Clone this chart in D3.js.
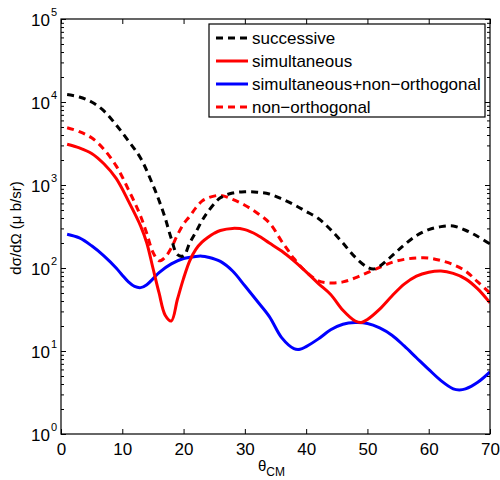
<!DOCTYPE html>
<html><head><meta charset="utf-8">
<script src="https://cdn.jsdelivr.net/npm/d3@7"></script>
<style>body{margin:0;background:#fff} text{font-family:"Liberation Sans",Arial,sans-serif}</style>
</head><body>
<svg id="c" width="500" height="480"></svg>
<script>
// ---- data ----
const seriesNames = ["successive", "simultaneous", "simultaneous+non\u2212orthogonal", "non\u2212orthogonal"];

const successiveTheta  = [1,3,5,7,9,11,13,15,16,17,18,19,20,21,22,23,24,26,28,30,32,34,36,38,40,42,44,46,48,50,51,52,54,56,58,60,62,64,66,68,70];
const successiveValues = [12300,11500,10000,7800,5300,3400,2100,1000,650,400,225,145,140,200,270,370,480,700,800,830,820,780,680,580,480,395,290,200,135,102,97,105,140,190,245,290,315,320,285,240,195];

const simultTheta  = [1,3,5,7,9,11,13,14,15,16,17,18,19,20,21,22,23,24,25,26,28,30,32,34,36,38,40,42,44,46,48,49,50,52,54,56,58,60,62,64,66,68,70];
const simultValues = [3100,2800,2400,1800,1200,640,320,200,100,50,27,23,42,75,122,168,205,235,262,283,300,290,250,200,160,122,90,65,48,31,23,22,24,32,46,64,80,89,92,86,74,56,38];

const simNonOrthTheta  = [1,3,5,7,9,10,11,12,13,14,15,16,18,20,22,23,24,26,28,30,32,34,36,38,39,40,42,44,46,48,50,52,54,56,58,60,62,64,65,66,68,70];
const simNonOrthValues = [255,230,185,140,100,82,68,60,58,63,74,88,112,130,138,139,135,120,92,61,40,26,14.5,10.7,10.5,11.3,14,18,21,22,21.5,19,15.5,11.5,8.3,6,4.4,3.5,3.4,3.5,4.2,5.6];

const nonOrthTheta  = [1,3,5,7,9,10,11,12,13,14,15,16,17,18,19,20,21,22,23,24,26,28,30,32,34,36,37,38,40,42,44,46,48,50,52,54,56,58,60,62,64,66,68,70];
const nonOrthValues = [4900,4400,3700,2700,1700,1250,880,620,420,260,155,122,135,175,250,340,420,530,640,700,750,670,570,460,350,210,165,130,90,70,66,68,76,88,102,117,127,132,132,123,110,92,68,50];

const xTicks = [0,10,20,30,40,50,60,70];
const yTickExps = [0,1,2,3,4,5];

// ---- layout ----
const svg = d3.select("#c");
const L = 61, R = 490, T = 19, B = 434;
const x = d3.scaleLinear().domain([0,70]).range([L,R]);
const y = d3.scaleLog().domain([1,1e5]).range([B,T]);

svg.append("rect").attr("width",500).attr("height",480).attr("fill","#fff");

const seriesDefs = [
  {theta: successiveTheta, vals: successiveValues, color:"#000000", dash:"7,5"},
  {theta: simultTheta, vals: simultValues, color:"#ff0000", dash:null},
  {theta: simNonOrthTheta, vals: simNonOrthValues, color:"#0000ff", dash:null},
  {theta: nonOrthTheta, vals: nonOrthValues, color:"#ff0000", dash:"7,5"}
];

const line = d3.line().x(d=>x(d[0])).y(d=>y(d[1])).curve(d3.curveCatmullRom.alpha(0.5));
svg.append("clipPath").attr("id","pc").append("rect")
  .attr("x",L).attr("y",T).attr("width",R-L).attr("height",B-T);

const order = [2,3,1,0];
order.forEach(i=>{
  const s = seriesDefs[i];
  svg.append("path")
    .datum(s.theta.map((t,k)=>[t,s.vals[k]]))
    .attr("clip-path","url(#pc)")
    .attr("fill","none").attr("stroke",s.color).attr("stroke-width",3)
    .attr("stroke-dasharray",s.dash).attr("stroke-linejoin","round")
    .attr("d",line);
});

// ---- axes ----
const minor = [];
for (let e=0;e<5;e++) for (let m=2;m<10;m++) minor.push(m*Math.pow(10,e));
const majors = yTickExps.map(e=>Math.pow(10,e));

function styleAxis(g){ g.select(".domain").remove(); g.selectAll("line").attr("stroke","#000").attr("stroke-width",1); }

svg.append("g").attr("transform",`translate(0,${B})`)
  .call(d3.axisBottom(x).tickValues(xTicks).tickSizeInner(-5).tickSizeOuter(0).tickPadding(9))
  .call(styleAxis)
  .selectAll("text").attr("font-size",17).attr("fill","#000");
svg.append("g").attr("transform",`translate(0,${T})`)
  .call(d3.axisTop(x).tickValues(xTicks).tickSizeInner(-5).tickSizeOuter(0).tickFormat(""))
  .call(styleAxis);

svg.append("g").attr("transform",`translate(${L},0)`)
  .call(d3.axisLeft(y).tickValues(majors).tickSizeInner(-5).tickSizeOuter(0).tickFormat(""))
  .call(styleAxis);
svg.append("g").attr("transform",`translate(${L},0)`)
  .call(d3.axisLeft(y).tickValues(minor).tickSizeInner(-3).tickSizeOuter(0).tickFormat(""))
  .call(styleAxis);
svg.append("g").attr("transform",`translate(${R},0)`)
  .call(d3.axisRight(y).tickValues(majors).tickSizeInner(-5).tickSizeOuter(0).tickFormat(""))
  .call(styleAxis);
svg.append("g").attr("transform",`translate(${R},0)`)
  .call(d3.axisRight(y).tickValues(minor).tickSizeInner(-3).tickSizeOuter(0).tickFormat(""))
  .call(styleAxis);

// y tick labels with superscripts
yTickExps.forEach(e=>{
  svg.append("text").attr("x",50).attr("y",y(Math.pow(10,e))+7)
    .attr("text-anchor","end").attr("font-size",17).attr("fill","#000").text("10");
  svg.append("text").attr("x",51).attr("y",y(Math.pow(10,e))-3)
    .attr("font-size",11).attr("fill","#000").text(e);
});

// box
svg.append("rect").attr("x",L).attr("y",T).attr("width",R-L).attr("height",B-T)
  .attr("fill","none").attr("stroke","#000").attr("stroke-width",1.2);

// axis labels
const xl = svg.append("text").attr("x",258).attr("y",471).attr("font-size",15).attr("fill","#000");
xl.append("tspan").text("\u03b8");
xl.append("tspan").attr("dy",5).attr("font-size",12).text("CM");

svg.append("text").attr("transform",`translate(21,228) rotate(-90)`)
  .attr("text-anchor","middle").attr("font-size",15).attr("fill","#000")
  .text("d\u03c3/d\u03a9 (\u03bc b/sr)");

// legend
const lg = svg.append("g");
lg.append("rect").attr("x",209).attr("y",24).attr("width",276).attr("height",93)
  .attr("fill","#fff").attr("stroke","#000").attr("stroke-width",1.2);
const legendY = [38,61,84,107];
seriesDefs.forEach((s,i)=>{
  lg.append("line").attr("x1",216).attr("x2",248).attr("y1",legendY[i]).attr("y2",legendY[i])
    .attr("stroke",s.color).attr("stroke-width",3).attr("stroke-dasharray",s.dash);
  lg.append("text").attr("x",252).attr("y",legendY[i]+6).attr("font-size",17).attr("fill","#000")
    .text(seriesNames[i]);
});
</script>
</body></html>
